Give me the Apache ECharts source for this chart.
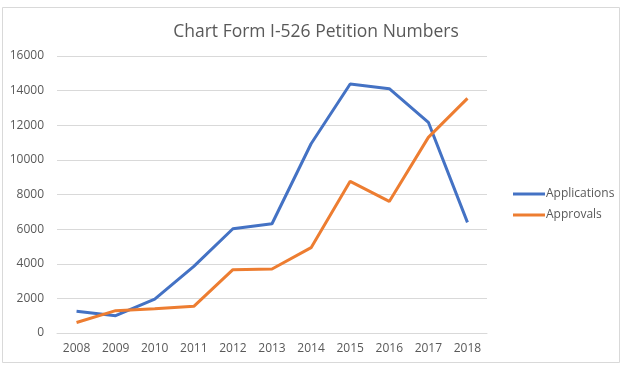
<!DOCTYPE html>
<html>
<head>
<meta charset="utf-8">
<script src="https://cdn.jsdelivr.net/npm/echarts@6/dist/echarts.min.js"></script>
<style>
html,body{margin:0;padding:0;background:#fff;}
#chart{width:627px;height:370px;}
</style>
</head>
<body>
<div id="chart"></div>
<script>
const years = ['2008','2009','2010','2011','2012','2013','2014','2015','2016','2017','2018'];
const applications = [1250, 1000, 1960, 3850, 6020, 6310, 10930, 14380, 14110, 12170, 6390];
const approvals = [610, 1290, 1400, 1540, 3660, 3700, 4930, 8760, 7600, 11300, 13550];
const titleText = 'Chart Form I-526 Petition Numbers';

const chart = echarts.init(document.getElementById('chart'));
const font = '"Open Sans", sans-serif';
chart.setOption({
  animation: false,
  backgroundColor: '#fff',
  graphic: [{
    type: 'rect',
    shape: {x: 2.5, y: 7.5, width: 617, height: 355},
    style: {fill: 'none', stroke: '#d9d9d9', lineWidth: 1},
    silent: true
  }],
  title: {
    text: titleText,
    left: 311, top: 18,
    textAlign: 'center',
    textStyle: {fontFamily: font, fontSize: 17.5, fontWeight: 'normal', color: '#595959'}
  },
  legend: {
    orient: 'vertical',
    left: 508, top: 183,
    itemWidth: 32, itemHeight: 14, itemGap: 9,
    icon: 'path://M0,0 L32,0 L32,3 L0,3 Z',
    textStyle: {fontFamily: font, fontSize: 12, color: '#595959', padding: [0,0,0,-4]},
    data: ['Applications', 'Approvals']
  },
  grid: {left: 57, right: 140, top: 56, bottom: 37, containLabel: false},
  xAxis: {
    type: 'category',
    data: years,
    boundaryGap: true,
    axisLine: {show: true, lineStyle: {color: '#d9d9d9'}},
    axisTick: {show: false},
    axisLabel: {fontFamily: font, fontSize: 12, color: '#595959', margin: 10}
  },
  yAxis: {
    type: 'value',
    min: 0, max: 16000, interval: 2000,
    axisLine: {show: false},
    axisTick: {show: false},
    splitLine: {lineStyle: {color: '#d9d9d9'}},
    axisLabel: {fontFamily: font, fontSize: 12, color: '#595959', margin: 13,
      formatter: function (v) { return String(v); }}
  },
  series: [
    {name: 'Applications', type: 'line', data: applications, symbol: 'none',
     lineStyle: {color: '#4472C4', width: 3}, itemStyle: {color: '#4472C4'}},
    {name: 'Approvals', type: 'line', data: approvals, symbol: 'none',
     lineStyle: {color: '#ED7D31', width: 3}, itemStyle: {color: '#ED7D31'}}
  ]
});
</script>
</body>
</html>
